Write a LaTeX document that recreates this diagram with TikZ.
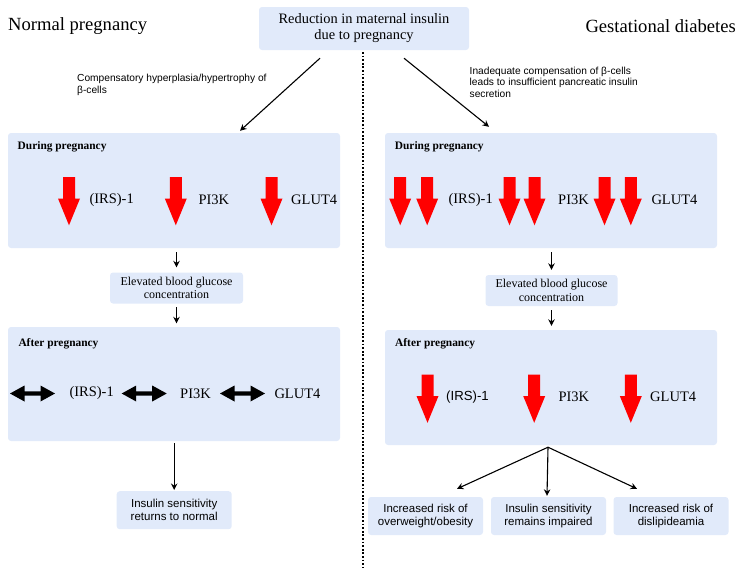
\documentclass[tikz,border=0pt]{standalone}
\usepackage{fontspec}
\setmainfont{Liberation Serif}
\setsansfont{Liberation Sans}
\usepackage{tikz}
\usetikzlibrary{arrows.meta, calc}

\definecolor{paneblue}{RGB}{225,234,250}

% fat red arrow pointing down, #1 = centre x, #2 = top y
\newcommand{\redarrow}[2]{\fill[red] (#1-6, #2) -- (#1+6, #2) -- (#1+6, #2+21.5) -- (#1+11, #2+21.5) -- (#1, #2+48.3) -- (#1-11, #2+21.5) -- (#1-6, #2+21.5) -- cycle;}
% black arrow with two heads, #1 = centre x, #2 = centre y
\newcommand{\bothways}[2]{\fill[black] (#1-22.5, #2) -- (#1-8, #2-8) -- (#1-8, #2-2.2) -- (#1+8, #2-2.2) -- (#1+8, #2-8) -- (#1+22.5, #2) -- (#1+8, #2+8) -- (#1+8, #2+2.2) -- (#1-8, #2+2.2) -- (#1-8, #2+8) -- cycle;}

\begin{document}
\begin{tikzpicture}[x = 1pt, y = -1pt,
	pane/.style = {fill = paneblue, rounded corners = 3pt, inner sep = 0pt},
	panel/.style = {pane, minimum width = 332pt, minimum height = 115pt},
	heading/.style = {anchor = west, inner sep = 0pt, font = \fontsize{11.4}{13}\selectfont\bfseries},
	gene/.style = {anchor = west, inner sep = 0pt, font = \fontsize{14.5}{16}\selectfont},
	note/.style = {anchor = north west, inner sep = 0pt, align = left, font = \sffamily\fontsize{10.2}{11.7}\selectfont},
	result/.style = {pane, minimum width = 115pt, minimum height = 38pt, align = center, font = \sffamily\fontsize{11.5}{13}\selectfont},
	link/.style = {-{Stealth[length = 6.5pt, width = 6.5pt]}, line width = 1.1pt},
	divider/.style = {line width = 2pt, dash pattern = on 1.8pt off 1.8pt}
]
\useasboundingbox (0, 0) rectangle (743, 568);

% titles and top box
\node[anchor = west, inner sep = 0pt, font = \fontsize{18.6}{20}\selectfont] (titleN) at (8, 26) {Normal pregnancy};
\node[anchor = east, inner sep = 0pt, font = \fontsize{18.6}{20}\selectfont] (titleG) at (736, 26) {Gestational diabetes};
\node[pane, minimum width = 210pt, minimum height = 43pt, align = center, font = \fontsize{14.4}{16}\selectfont] (top) at (364, 28.5) {Reduction in maternal insulin\\due to pregnancy};
\draw[divider] (362.5, 52) -- (362.5, 568);

% normal pregnancy
\node[panel] (durN) at (174, 190.5) {};
\node[heading] (durNhead) at (17.5, 147) {During pregnancy};
\redarrow{69}{177}
\redarrow{175.8}{177}
\redarrow{271.5}{177}
\node[gene] (irsN) at (89.3, 200) {(IRS)-1};
\node[gene] (pikN) at (198.3, 200) {PI3K};
\node[gene] (glutN) at (291, 200) {GLUT4};

\node[pane, minimum width = 133pt, minimum height = 31pt, align = center, font = \fontsize{12}{13.5}\selectfont] (elevN) at (176.5, 288) {Elevated blood glucose\\concentration};

\node[panel, minimum height = 114pt] (aftN) at (174, 384) {};
\node[heading] (aftNhead) at (18.3, 344) {After pregnancy};
\bothways{32.5}{393.5}
\bothways{144.2}{393.5}
\bothways{242.5}{393.5}
\node[gene] (irsNa) at (69.3, 393.5) {(IRS)-1};
\node[gene] (pikNa) at (180, 393.5) {PI3K};
\node[gene] (glutNa) at (274.3, 393.5) {GLUT4};

\node[result] (normal) at (174.2, 510.2) {Insulin sensitivity\\returns to normal};

\node[note] (noteN) at (77, 74) {Compensatory hyperplasia/hypertrophy of\\β-cells};

\draw[link] ([shift = {(-44, 8)}]top.south) -- ([shift = {(66, -2)}]durN.north);
\draw[link, shorten < = 4pt, shorten > = 5pt] (elevN.north |- durN.south) -- (elevN.north);
\draw[link, shorten < = 3.5pt, shorten > = 3.5pt] (elevN.south) -- (elevN.south |- aftN.north);
\draw[link, shorten < = 2pt, shorten > = 1pt] (normal.north |- aftN.south) -- (normal.north);

% gestational diabetes
\node[panel] (durG) at (551, 190.5) {};
\node[heading] (durGhead) at (394.7, 147) {During pregnancy};
\redarrow{400.2}{177}
\redarrow{427.2}{177}
\redarrow{509.5}{177}
\redarrow{534.5}{177}
\redarrow{604.5}{177}
\redarrow{630.8}{177}
\node[gene] (irsG) at (448.3, 200) {(IRS)-1};
\node[gene] (pikG) at (558, 200) {PI3K};
\node[gene] (glutG) at (651.3, 200) {GLUT4};

\node[pane, minimum width = 132pt, minimum height = 31pt, align = center, font = \fontsize{12}{13.5}\selectfont] (elevG) at (551.5, 290.5) {Elevated blood glucose\\concentration};

\node[panel] (aftG) at (551, 387.5) {};
\node[heading] (aftGhead) at (395, 343.5) {After pregnancy};
\redarrow{427.5}{374.5}
\redarrow{534.2}{374.5}
\redarrow{630.8}{374.5}
\node[gene, font = \sffamily\fontsize{13.2}{15}\selectfont] (irsGa) at (446, 397) {(IRS)-1};
\node[gene] (pikGa) at (558.3, 397) {PI3K};
\node[gene] (glutGa) at (650, 397) {GLUT4};

\node[result] (riskA) at (425.5, 516) {Increased risk of\\overweight/obesity};
\node[result] (stays) at (548.5, 516) {Insulin sensitivity\\remains impaired};
\node[result] (riskB) at (671, 516) {Increased risk of\\dislipideamia};

\node[note] (noteG) at (469.5, 66.5) {Inadequate compensation of β-cells\\leads to insufficient pancreatic insulin\\secretion};

\draw[link] ([shift = {(40, 8)}]top.south) -- ([shift = {(-62, -6)}]durG.north);
\draw[link, shorten < = 4pt, shorten > = 5pt] (elevG.north |- durG.south) -- (elevG.north);
\draw[link, shorten < = 4pt, shorten > = 4pt] (elevG.south) -- (elevG.south |- aftG.north);
\coordinate (fork) at ([shift = {(-3, 2)}]aftG.south);
\draw[link] (fork) -- ([shift = {(31.5, -8)}]riskA.north);
\draw[link] (fork) -- ([shift = {(-1.5, -1)}]stays.north);
\draw[link] (fork) -- ([shift = {(-34, -8)}]riskB.north);
\end{tikzpicture}
\end{document}
